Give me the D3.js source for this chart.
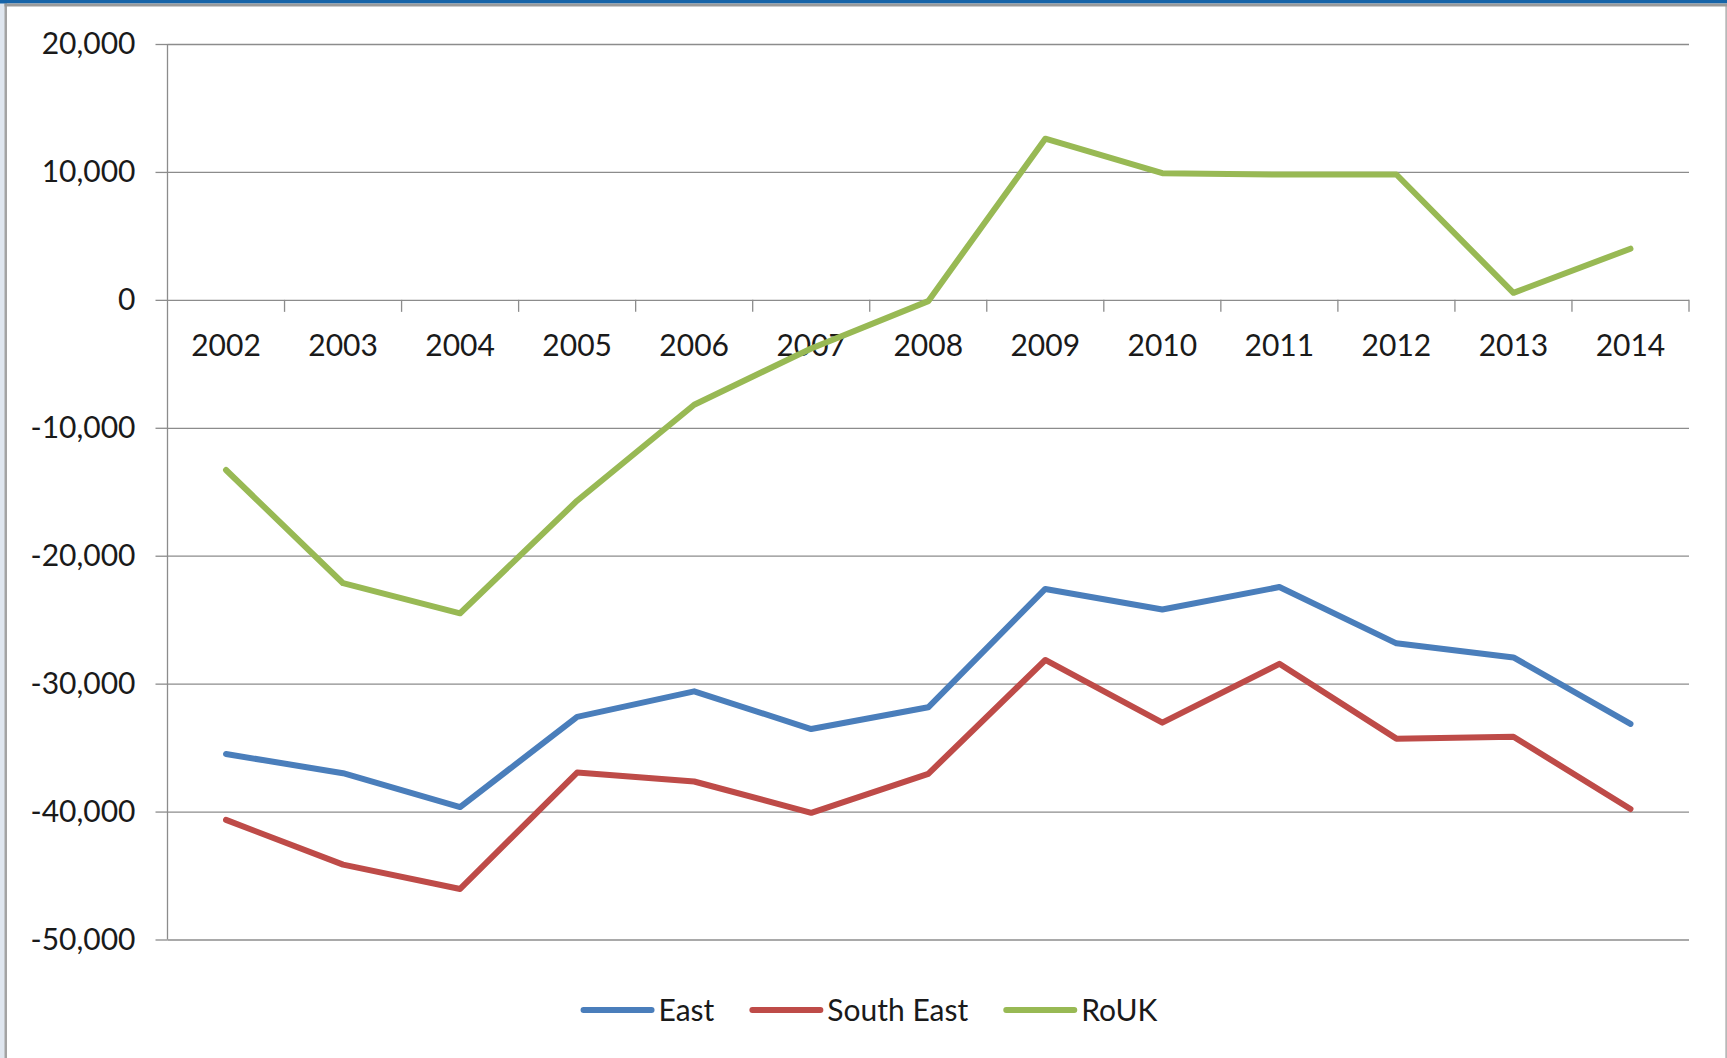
<!DOCTYPE html>
<html>
<head>
<meta charset="utf-8">
<script src="https://cdn.jsdelivr.net/npm/d3@7"></script>
<style>
  html, body { margin: 0; padding: 0; background: #fff; }
  svg { display: block; }
  text { font-family: Lato, "Open Sans", sans-serif; fill: #1a1a1a; }
</style>
</head>
<body>
<script>
// chart data
var years = ["2002", "2003", "2004", "2005", "2006", "2007", "2008",
             "2009", "2010", "2011", "2012", "2013", "2014"];
var east = [-35500, -37000, -39650, -32600, -30600, -33550, -31850,
            -22600, -24200, -22450, -26850, -27950, -33150];
var southEast = [-40650, -44150, -46050, -36950, -37650, -40100, -37050,
                 -28150, -33050, -28450, -34300, -34150, -39800];
var roUK = [-13300, -22150, -24500, -15700, -8200, -3800, -100,
            12600, 9900, 9800, 9800, 550, 4000];
var seriesNames = ["East", "South East", "RoUK"];
var seriesColors = ["#4a7ebb", "#be4b48", "#98b954"];
var yTicks = [20000, 10000, 0, -10000, -20000, -30000, -40000, -50000];

var width = 1727,
    height = 1058;

// plot area edges (note: "top" is a reserved window prop, so use prefixed names)
var plotL = 167.5, plotR = 1689, plotT = 44, plotB = 939.5;
var fontSize = "30px";

var svg = d3.select("body").append("svg")
    .attr("width", width)
    .attr("height", height);

// window frame bits
svg.append("rect").attr("x", 0).attr("y", 0).attr("width", 5).attr("height", height)
    .attr("fill", "#dfe6ef");
svg.append("rect").attr("x", 4.5).attr("y", 3).attr("width", 2.5).attr("height", height)
    .attr("fill", "#a3a3a3");
svg.append("rect").attr("x", 0).attr("y", 0).attr("width", width).attr("height", 3.5)
    .attr("fill", "#1764a8");
svg.append("rect").attr("x", 4.5).attr("y", 3.5).attr("width", width).attr("height", 3)
    .attr("fill", "#9a9a9a");
svg.append("rect").attr("x", 1725.5).attr("y", 6).attr("width", 1.2).attr("height", height)
    .attr("fill", "#9a9a9a");

var x = d3.scaleBand()
    .domain(years)
    .range([plotL, plotR])
    .padding(0);

var y = d3.scaleLinear()
    .domain([-50000, 20000])
    .range([plotB, plotT]);

var fmt = d3.formatLocale({decimal: ".", thousands: ",", grouping: [3],
                           currency: ["", ""], minus: "-"}).format(",");

// gridlines + y ticks
var yAxis = svg.append("g")
    .attr("transform", "translate(" + plotL + ",0)")
    .call(d3.axisLeft(y).tickValues(yTicks).tickSize(12).tickPadding(20).tickFormat(fmt));
yAxis.select(".domain").remove();
yAxis.selectAll(".tick line").attr("stroke", "#8c8c8c").attr("stroke-width", 1.3);
yAxis.selectAll(".tick").append("line")
    .attr("x1", 0).attr("x2", plotR - plotL)
    .attr("stroke", "#8c8c8c").attr("stroke-width", 1.3);
yAxis.selectAll("text")
    .style("font-size", fontSize)
    .style("font-family", "Lato, sans-serif")
    .attr("fill", "#1a1a1a");

// vertical axis line
svg.append("line")
    .attr("x1", plotL).attr("x2", plotL)
    .attr("y1", plotT).attr("y2", plotB)
    .attr("stroke", "#8c8c8c").attr("stroke-width", 1.3);

// category axis on the zero line
var xAxis = svg.append("g")
    .attr("transform", "translate(0," + y(0) + ")");
var bounds = years.map(function (d) { return x(d); }).concat([plotR]);
xAxis.selectAll("line.cat")
    .data(bounds.slice(1))
    .enter().append("line")
    .attr("class", "cat")
    .attr("x1", function (d) { return d; })
    .attr("x2", function (d) { return d; })
    .attr("y1", 0).attr("y2", 12)
    .attr("stroke", "#8c8c8c").attr("stroke-width", 1.3);
xAxis.selectAll("text")
    .data(years)
    .enter().append("text")
    .attr("x", function (d) { return x(d) + x.bandwidth() / 2; })
    .attr("y", 56)
    .attr("text-anchor", "middle")
    .style("font-size", fontSize)
    .text(function (d) { return d; });

// series lines
var line = d3.line()
    .x(function (d, i) { return x(years[i]) + x.bandwidth() / 2; })
    .y(function (d) { return y(d); });

var allSeries = [east, southEast, roUK];
svg.selectAll("path.series")
    .data(allSeries)
    .enter().append("path")
    .attr("class", "series")
    .attr("d", line)
    .attr("fill", "none")
    .attr("stroke", function (d, i) { return seriesColors[i]; })
    .attr("stroke-width", 6)
    .attr("stroke-linejoin", "round")
    .attr("stroke-linecap", "round");

// legend
var legend = svg.append("g");
var items = legend.selectAll("g")
    .data(seriesNames)
    .enter().append("g");
items.append("line")
    .attr("x1", 0).attr("x2", 68)
    .attr("y1", 0).attr("y2", 0)
    .attr("stroke", function (d, i) { return seriesColors[i]; })
    .attr("stroke-width", 6)
    .attr("stroke-linecap", "round");
items.append("text")
    .attr("x", 75)
    .attr("y", 11)
    .style("font-size", fontSize)
    .text(function (d) { return d; });

var pos = 0;
items.each(function () {
    var g = d3.select(this);
    g.attr("transform", "translate(" + pos + ",0)");
    pos += 75 + g.select("text").node().getComputedTextLength() + 38;
});
var legendW = pos - 38;
legend.attr("transform", "translate(" + (870.5 - legendW / 2) + ",1010)");
</script>
</body>
</html>
